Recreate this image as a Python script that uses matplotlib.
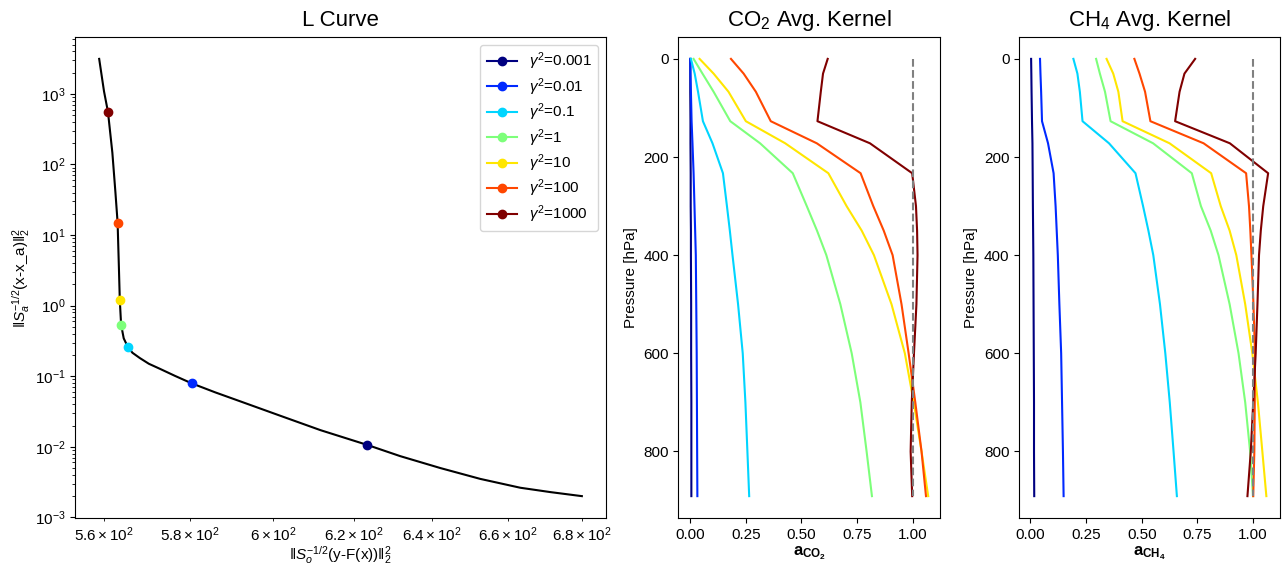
import matplotlib
matplotlib.use("Agg")
import matplotlib.pyplot as plt
import numpy as np

plt.rcParams["font.family"] = ["Liberation Sans", "DejaVu Sans"]
plt.rcParams["mathtext.fontset"] = "custom"
plt.rcParams["mathtext.rm"] = "Liberation Sans"
plt.rcParams["mathtext.it"] = "Liberation Sans:italic"
plt.rcParams["mathtext.bf"] = "Liberation Sans:bold"

# regularisation strengths
gammas = ["0.001", "0.01", "0.1", "1", "10", "100", "1000"]

# L curve
lc_resid = [559.0, 560.1, 561.0, 562.0, 562.7, 563.2, 563.5, 563.7, 564.0, 564.6,
            565.5, 566.6, 568.3, 570.4, 573.0, 576.5, 580.4, 586.0, 592.0, 601.7,
            611.6, 623.3, 631.7, 642.1, 652.6, 663.3, 671.5, 680.1]
lc_prior = [3130, 1085, 555, 147, 40.3, 15.0, 3.41, 1.21, 0.538, 0.344,
            0.263, 0.215, 0.181, 0.150, 0.127, 0.101, 0.0793, 0.059, 0.044, 0.0275,
            0.0172, 0.01064, 0.00738, 0.0050, 0.00351, 0.00263, 0.00228, 0.0020]
pt_resid = [623.3, 580.4, 565.5, 564.0, 563.7, 563.2, 561.0]
pt_prior = [0.01064, 0.0793, 0.263, 0.538, 1.21, 15.0, 555]

# pressure levels [hPa]
pressure = [0, 30, 67, 127, 172, 233, 300, 350, 400, 500, 600, 700, 800, 891]

ak_co2 = [
    [0.0, 0.0, 0.0, 0.001, 0.001, 0.002, 0.002, 0.003, 0.003, 0.004, 0.004, 0.005, 0.005, 0.005],
    [0.0, 0.001, 0.003, 0.006, 0.010, 0.015, 0.019, 0.022, 0.025, 0.027, 0.029, 0.030, 0.031, 0.032],
    [0.003, 0.02, 0.035, 0.057, 0.10, 0.147, 0.165, 0.178, 0.190, 0.215, 0.236, 0.248, 0.257, 0.265],
    [0.015, 0.055, 0.105, 0.18, 0.314, 0.461, 0.524, 0.57, 0.612, 0.675, 0.726, 0.765, 0.793, 0.817],
    [0.042, 0.105, 0.172, 0.25, 0.427, 0.621, 0.703, 0.771, 0.826, 0.905, 0.965, 1.005, 1.04, 1.07],
    [0.183, 0.24, 0.295, 0.362, 0.569, 0.766, 0.823, 0.87, 0.91, 0.95, 0.982, 1.012, 1.04, 1.06],
    [0.618, 0.597, 0.587, 0.572, 0.808, 0.998, 1.015, 1.02, 1.022, 1.017, 1.006, 0.996, 0.991, 0.998],
]
ak_ch4 = [
    [0.003, 0.004, 0.005, 0.007, 0.009, 0.010, 0.011, 0.012, 0.013, 0.014, 0.015, 0.016, 0.016, 0.017],
    [0.043, 0.045, 0.048, 0.052, 0.079, 0.104, 0.113, 0.118, 0.123, 0.130, 0.138, 0.142, 0.146, 0.149],
    [0.193, 0.211, 0.222, 0.234, 0.353, 0.472, 0.506, 0.53, 0.552, 0.582, 0.606, 0.626, 0.643, 0.658],
    [0.295, 0.312, 0.335, 0.36, 0.551, 0.725, 0.766, 0.81, 0.845, 0.895, 0.935, 0.965, 0.987, 1.0],
    [0.342, 0.372, 0.395, 0.414, 0.625, 0.812, 0.855, 0.895, 0.925, 0.965, 0.997, 1.022, 1.042, 1.06],
    [0.467, 0.49, 0.515, 0.539, 0.778, 0.969, 0.982, 0.988, 0.993, 1.002, 1.009, 1.008, 1.006, 1.001],
    [0.74, 0.692, 0.67, 0.65, 0.896, 1.068, 1.046, 1.035, 1.027, 1.02, 1.012, 1.001, 0.99, 0.975],
]

colors = plt.cm.jet(np.linspace(0, 1, len(gammas)))

fig = plt.figure(figsize=(12.85, 5.66), dpi=100)
ax0 = fig.add_axes([0.0584, 0.0848, 0.4132, 0.8498])
ax1 = fig.add_axes([0.5279, 0.0848, 0.2037, 0.8498])
ax2 = fig.add_axes([0.7932, 0.0848, 0.2029, 0.8498])

# L curve
ax0.plot(lc_resid, lc_prior, color="black", lw=1.5)
for i, g in enumerate(gammas):
    ax0.plot([pt_resid[i]], [pt_prior[i]], marker="o", ms=6, color=colors[i],
             label=r"$\gamma^2$=" + g)
ax0.set_xscale("log")
ax0.set_yscale("log")
ax0.set_title("L Curve", fontsize=16, pad=8)
ax0.set_xlabel(r"$\|S_o^{-1/2}$(y-F(x))$\|_2^2$", fontsize=11, labelpad=0)
ax0.set_ylabel(r"$\|S_a^{-1/2}$(x-x_a)$\|_2^2$", fontsize=11, labelpad=2)
ax0.tick_params(which="both", labelsize=11)
ax0.legend(loc="upper right", fontsize=11, labelspacing=0.25)

# averaging kernels
for ax, ak, title, xlab in [(ax1, ak_co2, r"CO$_2$ Avg. Kernel", r"$\mathbf{a_{CO_2}}$"),
                            (ax2, ak_ch4, r"CH$_4$ Avg. Kernel", r"$\mathbf{a_{CH_4}}$")]:
    for i in range(len(gammas)):
        ax.plot(ak[i], pressure, color=colors[i], lw=1.5)
    ax.plot([1, 1], [pressure[0], pressure[-1]], "--", color="gray", lw=1.5)
    ax.invert_yaxis()
    ax.set_title(title, fontsize=16, pad=8)
    ax.set_xlabel(xlab, fontsize=12, labelpad=2)
    ax.set_ylabel("Pressure [hPa]", fontsize=11)
    ax.set_xticks([0, 0.25, 0.5, 0.75, 1.0])
    ax.tick_params(labelsize=11)

fig.savefig("out.png", dpi=100)
